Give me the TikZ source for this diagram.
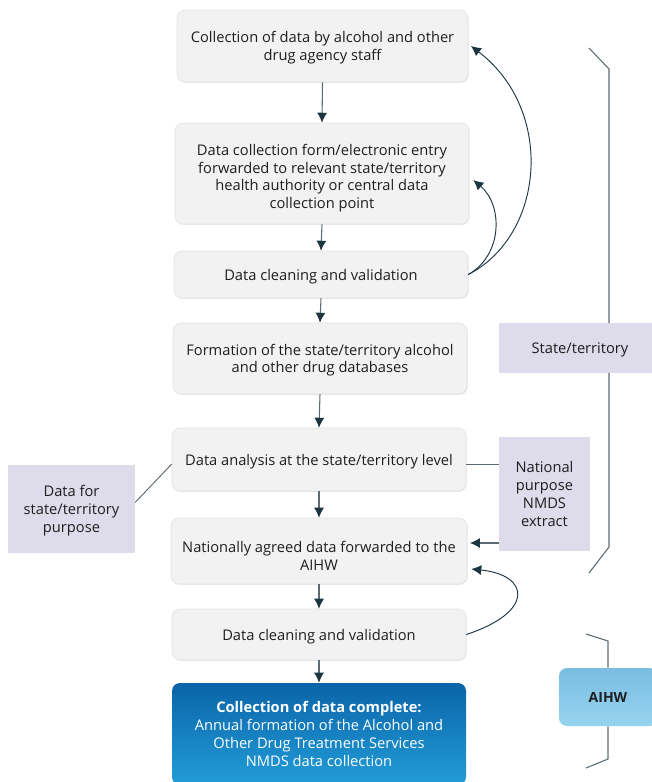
\documentclass[tikz,border=0pt]{standalone}
\usepackage{fontspec}
\setmainfont{Open Sans}
\usetikzlibrary{arrows.meta,shadows}
\definecolor{boxgrey}{HTML}{F2F2F2}
\definecolor{boxedge}{HTML}{E2E2E2}
\definecolor{lav}{HTML}{DEDBEA}
\definecolor{linegrey}{HTML}{5C6B73}
\definecolor{darkln}{HTML}{1C3540}
\definecolor{bluetop}{HTML}{0A64A8}
\definecolor{bluebot}{HTML}{229DD8}
\definecolor{aitop}{HTML}{7ABDE2}
\definecolor{aibot}{HTML}{96D3EF}
\definecolor{txt}{HTML}{1E1E1E}
\tikzset{
  gbox/.style={rectangle, rounded corners=6pt, fill=boxgrey, draw=boxedge, line width=0.4pt,
    drop shadow={shadow xshift=0.5pt, shadow yshift=-0.7pt, opacity=0.18},
    align=center, font=\fontsize{11}{13.3}\selectfont, text=txt, inner sep=0pt, text depth=0pt},
  lbox/.style={rectangle, fill=lav, align=center, font=\fontsize{11}{13.3}\selectfont, text=txt, inner sep=0pt, text depth=0pt},
  flow/.style={draw=linegrey, line width=0.8pt, -{Latex[length=7.5pt,width=7.5pt,color=darkln]}},
  loop/.style={draw=darkln, line width=0.7pt, -{Latex[length=7.5pt,width=7.5pt]}},
  plain/.style={draw=linegrey, line width=0.7pt},
  brk/.style={draw=linegrey, line width=0.8pt}
}
\begin{document}
\begin{tikzpicture}[x=0.75pt,y=-0.75pt]
\useasboundingbox (0,0) rectangle (652,782);
\clip (0,0) rectangle (652,782);
% brackets (behind boxes)
\coordinate (st1) at (589,48);
\coordinate (st2) at (609,69);
\coordinate (st3) at (609,547);
\coordinate (st4) at (589,573);
\draw[brk] (st1) -- (st2) -- (st3) -- (st4);

\node[gbox, minimum width=218.25pt, minimum height=54pt] (b1) at (322.5,46) {Collection of data by alcohol and other\\drug agency staff};
\node[gbox, minimum width=220.5pt, minimum height=75.75pt] (b2) at (322,173.5) {\rule{0pt}{12.9pt}Data collection form/electronic entry\\forwarded to relevant state/territory\\health authority or central data\\collection point};
\node[gbox, minimum width=220.5pt, minimum height=35.25pt] (b3) at (321,274.5) {Data cleaning and validation};
\node[gbox, minimum width=220.5pt, minimum height=53.25pt] (b4) at (320,358.5) {Formation of the state/territory alcohol\\and other drug databases};
\node[gbox, minimum width=220.5pt, minimum height=47.25pt] (b5) at (319,459.5) {Data analysis at the state/territory level};
\node[gbox, minimum width=222pt, minimum height=49.5pt] (b6) at (319,551) {\rule{0pt}{15.9pt}Nationally agreed data forwarded to the\\AIHW};
\node[gbox, minimum width=220.5pt, minimum height=38.25pt] (b7) at (319,634.5) {Data cleaning and validation};
\node[rectangle, rounded corners=6pt, top color=bluetop, bottom color=bluebot, draw=none,
  minimum width=220.5pt, minimum height=76.5pt, align=center, text=white,
  font=\fontsize{11}{13.5}\selectfont, inner sep=0pt] (b8) at (319,734)
  {\textbf{Collection of data complete:}\\Annual formation of the Alcohol and\\Other Drug Treatment Services\\NMDS data collection};

\node[lbox, minimum width=121.5pt, minimum height=37.5pt] (st) at (580,348) {State/territory};
\node[lbox, minimum width=68.25pt, minimum height=85.5pt] (nat) at (544.5,494) {National\\purpose\\NMDS\\extract};
\node[lbox, minimum width=95.25pt, minimum height=66pt] (dfor) at (71.5,509) {Data for\\state/territory\\purpose};

\node[rectangle, rounded corners=6pt, top color=aitop, bottom color=aibot, minimum width=73.5pt, minimum height=43.5pt,
  font=\bfseries\fontsize{10.5}{12}\selectfont, text=txt, inner sep=0pt] (aihw) at (608,697) {AIHW};

% AIHW bracket
\coordinate (ai1) at (586,634);
\coordinate (ai2) at (608,641);
\coordinate (ai3) at (608,759);
\coordinate (ai4) at (586,768);
\draw[brk] (ai1) -- (ai2) -- (aihw.north);
\draw[brk] (aihw.south) -- (ai3) -- (ai4);

% main flow
\draw[flow] (b1.south) -- (b2.north);
\draw[flow] (b2.south) -- (b3.north);
\draw[flow] (b3.south) -- (b4.north);
\draw[flow] (b4.south) -- (b5.north);
\draw[flow] (b5.south) -- (b6.north);
\draw[flow] (b6.south) -- (b7.north);
\draw[flow] (b7.south) -- (b8.north);

% feedback loops
\draw[loop] (b3.east) .. controls (545,235) and (555,110) .. ([xshift=2pt]b1.east);
\draw[loop] (b3.east) .. controls (503,255) and (503,205) .. ([xshift=3pt,yshift=-4.9pt]b2.east);
\draw[loop] (b7.east) .. controls (535,612) and (530,575) .. ([xshift=3pt,yshift=-13.5pt]b6.east);

% side connectors
\draw[plain] ([yshift=-3.4pt]b5.west) -- ([yshift=5pt]dfor.east);
\draw[plain] ([yshift=-3.4pt]b5.east) -- ([yshift=-3.4pt]b5.east -| nat.west);
\draw[flow] ([yshift=6pt]b6.east -| nat.west) -- ([xshift=2pt,yshift=6pt]b6.east);
\end{tikzpicture}
\end{document}
